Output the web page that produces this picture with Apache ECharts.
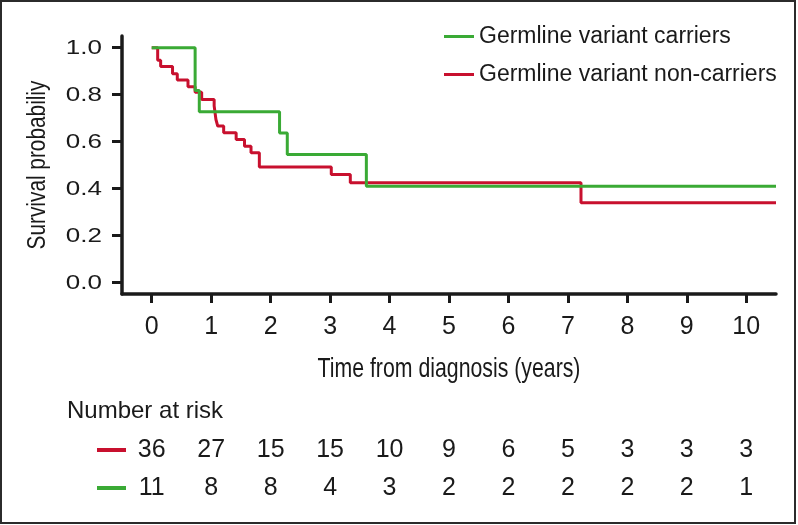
<!DOCTYPE html>
<html>
<head>
<meta charset="utf-8">
<script src="https://cdn.jsdelivr.net/npm/echarts@6/dist/echarts.min.js"></script>
<style>
html,body{margin:0;padding:0;background:#fff;}
#c{width:798px;height:525px;}
</style>
</head>
<body>
<div id="c"></div>
<script>
// ---- data ----
const xTicks = [0,1,2,3,4,5,6,7,8,9,10];
const yTicks = [0,0.2,0.4,0.6,0.8,1.0];
const carriersT = [0, 0.73, 0.80, 2.15, 2.28, 3.61, 10.5];
const carriersS = [1, 0.818, 0.727, 0.636, 0.545, 0.409, 0.409];
const nonCarriersT = [0, 0.10, 0.15, 0.35, 0.43, 0.61, 0.73, 0.84, 1.05, 1.08, 1.11, 1.21, 1.42, 1.56, 1.67, 1.81, 3.02, 3.34, 7.22, 10.5];
const nonCarriersS = [1, 0.947, 0.920, 0.889, 0.862, 0.834, 0.810, 0.779, 0.752, 0.694, 0.666, 0.637, 0.609, 0.580, 0.552, 0.492, 0.460, 0.424, 0.339, 0.339];
const riskNonCarriers = [36,27,15,15,10,9,6,5,3,3,3];
const riskCarriers = [11,8,8,4,3,2,2,2,2,2,1];
const seriesNames = ['Germline variant carriers','Germline variant non-carriers'];
const xTitle = 'Time from diagnosis (years)';
const yTitle = 'Survival probabiliy';
const riskTitle = 'Number at risk';

const GREEN = '#3aaa35';
const RED = '#c8102e';
const INK = '#1a1a1a';

const zip = (a,b) => a.map((v,i)=>[v,b[i]]);

const chart = echarts.init(document.getElementById('c'), null, {renderer:'canvas'});
const option = {
  animation:false,
  backgroundColor:'#fff',
  grid:{left:122, right:22, top:36, bottom:231, containLabel:false},
  legend:{
    data:seriesNames,
    orient:'vertical',
    left:439, top:20,
    itemWidth:30, itemHeight:3, itemGap:15,
    icon:'rect',
    textStyle:{fontFamily:'Liberation Sans', fontSize:23, color:INK, lineHeight:23}
  },
  xAxis:{
    type:'value', min:-0.5, max:10.5,
    axisLine:{onZero:false, lineStyle:{color:INK, width:3.5}},
    axisTick:{show:true, length:9, lineStyle:{color:INK, width:3}, customValues:xTicks},
    axisLabel:{customValues:xTicks, margin:21, fontFamily:'Liberation Sans', fontSize:25, color:INK, formatter:v=>String(Math.round(v))},
    splitLine:{show:false}
  },
  yAxis:{
    type:'value', min:-0.05, max:1.05,
    axisLine:{onZero:false, lineStyle:{color:INK, width:3.5}},
    axisTick:{show:true, length:10, lineStyle:{color:INK, width:3}, customValues:yTicks},
    axisLabel:{show:false},
    splitLine:{show:false}
  },
  series:[
    {name:seriesNames[1], type:'line', step:'end', data:zip(nonCarriersT, nonCarriersS), showSymbol:false, symbol:'none', lineStyle:{color:RED, width:3}, itemStyle:{color:RED}, z:2},
    {name:seriesNames[0], type:'line', step:'end', data:zip(carriersT, carriersS), showSymbol:false, symbol:'none', lineStyle:{color:GREEN, width:3}, itemStyle:{color:GREEN}, z:3}
  ]
};
chart.setOption(option);

const px = v => chart.convertToPixel({xAxisIndex:0}, v);
const py = v => chart.convertToPixel({yAxisIndex:0}, v);
const g = [];
g.push({type:'rect', shape:{x:1, y:1, width:794, height:522}, style:{fill:null, stroke:'#2b2b2b', lineWidth:2}, silent:true, z:100});
// y tick labels (wide face in the original)
yTicks.forEach(v=>{
  g.push({type:'text', x:102, y:py(v)+1, scaleX:1.3, style:{text:v.toFixed(1), fontFamily:'Liberation Sans', fontSize:20, fill:INK, align:'right', verticalAlign:'middle'}});
});
// axis titles (condensed face in the original)
g.push({type:'text', x:(px(-0.5)+px(10.5))/2, y:369, scaleX:0.76, style:{text:xTitle, fontFamily:'Liberation Sans', fontSize:28, fill:INK, align:'center', verticalAlign:'middle'}});
g.push({type:'text', x:38, y:(py(-0.05)+py(1.05))/2, rotation:Math.PI/2, scaleX:0.8, style:{text:yTitle, fontFamily:'Liberation Sans', fontSize:26, fill:INK, align:'center', verticalAlign:'middle'}});
g.push({type:'text', x:67, y:411, style:{text:riskTitle, fontFamily:'Liberation Sans', fontSize:24, fill:INK, align:'left', verticalAlign:'middle'}});
const rows = [{vals:riskNonCarriers, color:RED, y:450},{vals:riskCarriers, color:GREEN, y:488}];
rows.forEach(r=>{
  g.push({type:'line', shape:{x1:97, y1:r.y, x2:126, y2:r.y}, style:{stroke:r.color, lineWidth:4}});
  r.vals.forEach((v,i)=>{
    g.push({type:'text', x:px(xTicks[i]), y:r.y, style:{text:String(v), fontFamily:'Liberation Sans', fontSize:25, fill:INK, align:'center', verticalAlign:'middle'}});
  });
});
chart.setOption({graphic:g});
</script>
</body>
</html>
